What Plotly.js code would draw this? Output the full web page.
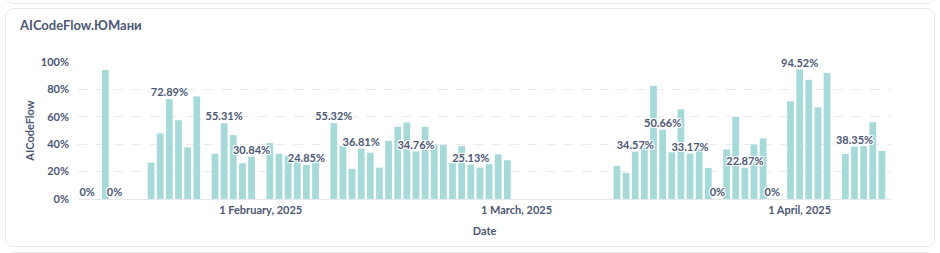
<!DOCTYPE html>
<html>
<head>
<meta charset="utf-8">
<script src="https://cdn.plot.ly/plotly-3.0.1.min.js"></script>
<style>
  html, body { margin: 0; padding: 0; background: #ffffff; width: 940px; height: 253px; overflow: hidden; }
  .card { position: absolute; background: #ffffff; border: 1px solid #E9EAEC; border-radius: 8px; box-sizing: border-box; }
  #chart { position: absolute; left: 0; top: 0; width: 940px; height: 253px; }
</style>
</head>
<body>
<div class="card" style="left:5px; top:-30px; width:930px; height:34px;"></div>
<div class="card" style="left:5px; top:8px; width:930px; height:239px;"></div>
<div class="card" style="left:5px; top:252px; width:930px; height:30px;"></div>
<div id="chart"></div>
<script>
// ---- data ----
const dates = [
  '2025-01-13','2025-01-15','2025-01-16',
  '2025-01-20','2025-01-21','2025-01-22','2025-01-23','2025-01-24','2025-01-25',
  '2025-01-27','2025-01-28','2025-01-29','2025-01-30','2025-01-31',
  '2025-02-02','2025-02-03','2025-02-04','2025-02-05','2025-02-06','2025-02-07',
  '2025-02-09','2025-02-10','2025-02-11','2025-02-12','2025-02-13','2025-02-14','2025-02-15',
  '2025-02-16','2025-02-17','2025-02-18','2025-02-19','2025-02-20','2025-02-21','2025-02-22',
  '2025-02-23','2025-02-24','2025-02-25','2025-02-26','2025-02-27','2025-02-28',
  '2025-03-12','2025-03-13','2025-03-14','2025-03-15','2025-03-16','2025-03-17','2025-03-18',
  '2025-03-19','2025-03-20','2025-03-21','2025-03-22','2025-03-23','2025-03-24','2025-03-25',
  '2025-03-26','2025-03-27','2025-03-28','2025-03-29','2025-03-31',
  '2025-04-01','2025-04-02','2025-04-03','2025-04-04',
  '2025-04-06','2025-04-07','2025-04-08','2025-04-09','2025-04-10'
];
const values = [
  0, 94.2, 0,
  26.6, 47.8, 72.89, 57.5, 37.7, 74.9,
  33.1, 55.31, 46.6, 26.1, 30.84,
  40.8, 33.1, 31.6, 29.2, 24.85, 29.0,
  55.32, 38.9, 22.0, 36.81, 33.8, 22.9, 42.5,
  52.7, 55.8, 34.76, 52.7, 39.9, 39.4, 26.1,
  38.6, 25.13, 22.9, 25.4, 32.6, 28.3,
  24.2, 19.1, 34.57, 39.9, 82.6, 50.66, 34.1,
  65.5, 33.17, 36.5, 22.7, 0, 36.2, 59.9,
  22.87, 39.9, 44.2, 0, 71.3,
  94.52, 87.0, 66.9, 92.0,
  32.9, 38.35, 38.6, 56.0, 35.0
];
// dates whose value label is shown
const labelledDates = [
  '2025-01-13','2025-01-16','2025-01-22','2025-01-28','2025-01-31','2025-02-06',
  '2025-02-09','2025-02-12','2025-02-18','2025-02-24',
  '2025-03-14','2025-03-17','2025-03-20','2025-03-23','2025-03-26','2025-03-29',
  '2025-04-01','2025-04-07'
];
const yTicks = [0, 20, 40, 60, 80, 100];
const yTickText = ['0%', '20%', '40%', '60%', '80%', '100%'];
const xTicks = ['2025-02-01', '2025-03-01', '2025-04-01'];
const xRange = ['2025-01-12', '2025-04-11'];
const chartTitle = 'AICodeFlow.ЮМани';
const yTitle = 'AICodeFlow';
const xTitle = 'Date';

const labX = [], labY = [], labT = [];
dates.forEach((d, i) => {
  if (labelledDates.includes(d)) {
    labX.push(d); labY.push(values[i]);
    labT.push((Math.round(values[i] * 100) / 100) + '%');
  }
});

const FONT = 'Lato, "Noto Sans", "DejaVu Sans", sans-serif';
const TXT = '#4C5773';
const HALO = 'white 1px 1px 0px, white -1px -1px 0px, white 1px -1px 0px, white -1px 1px 0px, white 0px 1px 0px, white 0px -1px 0px';

const bars = {
  type: 'bar',
  x: dates,
  y: values,
  marker: { color: '#A6DAD9', line: { width: 0 } },
  hoverinfo: 'skip'
};

const texts = {
  type: 'scatter',
  mode: 'text',
  x: labX,
  y: labY,
  text: labT,
  textposition: 'top center',
  cliponaxis: false,
  textfont: { family: FONT, size: 11, color: TXT, weight: 700, shadow: HALO },
  hoverinfo: 'skip'
};

const layout = {
  width: 940, height: 253,
  margin: { l: 78, r: 49, t: 62, b: 54, pad: 0 },
  paper_bgcolor: 'rgba(0,0,0,0)',
  plot_bgcolor: 'rgba(0,0,0,0)',
  bargap: 0.26,
  showlegend: false,
  font: { family: FONT, color: TXT },
  title: {
    text: chartTitle,
    font: { family: FONT, size: 13, color: TXT, weight: 700 },
    xref: 'container', yref: 'container',
    x: 20 / 940, xanchor: 'left',
    y: 1 - 25 / 253, yanchor: 'middle'
  },
  xaxis: {
    type: 'date',
    range: xRange,
    tickvals: xTicks,
    tickformat: '%-d %B, %Y',
    tickfont: { family: FONT, size: 11, color: TXT, weight: 700 },
    showgrid: false,
    showline: true, linecolor: '#E6E7EA', linewidth: 1,
    zeroline: false,
    ticks: '',
    ticklabelstandoff: 1,
    title: { text: xTitle, font: { family: FONT, size: 11, color: TXT, weight: 700 }, standoff: 12 }
  },
  yaxis: {
    range: [0, 100],
    tickvals: yTicks,
    ticktext: yTickText,
    tickfont: { family: FONT, size: 11, color: TXT, weight: 700 },
    showgrid: true, gridcolor: '#E9EAEC', griddash: 'dash', gridwidth: 1,
    zeroline: false,
    showline: false,
    ticks: '',
    ticklabelstandoff: 8,
    title: { text: yTitle, font: { family: FONT, size: 11, color: TXT, weight: 700 }, standoff: 3 }
  }
};

Plotly.newPlot('chart', [bars, texts], layout, { staticPlot: true, displayModeBar: false });
</script>
</body>
</html>
